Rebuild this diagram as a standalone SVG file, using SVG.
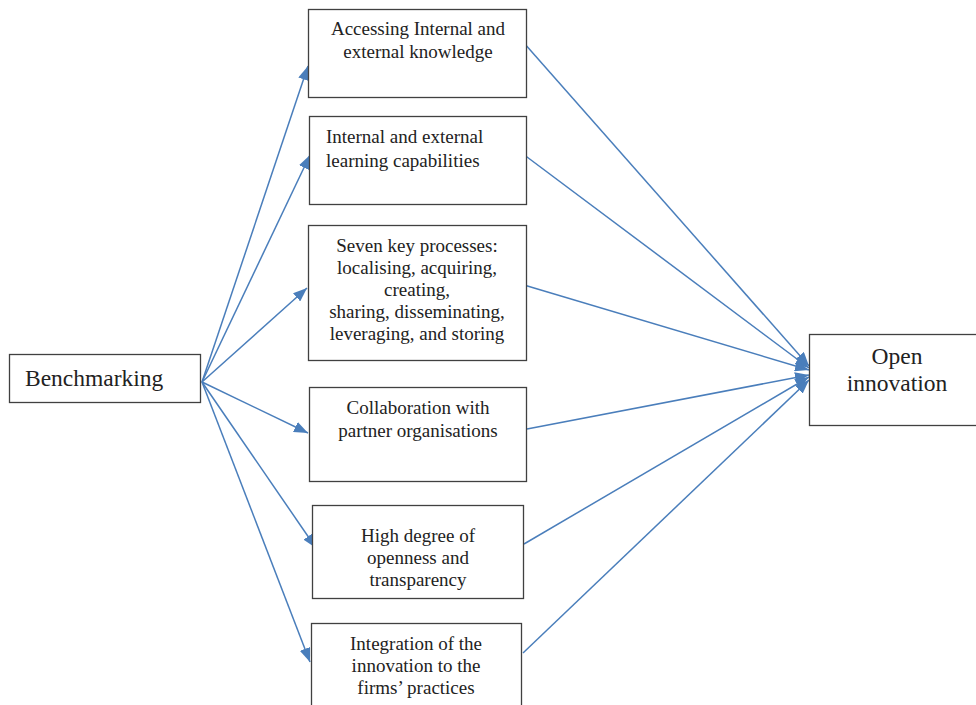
<svg xmlns="http://www.w3.org/2000/svg" width="976" height="705" viewBox="0 0 976 705">
<style>
.box{fill:#fff;stroke:#404040;stroke-width:1.3}
.t{font-family:"Liberation Serif","Times New Roman",serif;font-size:19px;fill:#222}
.c{text-anchor:middle}
.big{font-size:23.5px}
.ln{stroke:#4a7ebb;stroke-width:1.5;fill:none;marker-end:url(#ah)}
</style>
<defs>
<marker id="ah" viewBox="0 0 14 11" refX="14" refY="5.5" markerWidth="14" markerHeight="11" markerUnits="userSpaceOnUse" orient="auto">
<path d="M0,0 L14,5.5 L0,11 z" fill="#4a7ebb"/>
</marker>
</defs>
<rect width="976" height="705" fill="#fff"/>
<g id="connectors">
<line class="ln" x1="202" y1="382" x2="308" y2="66"/>
<line class="ln" x1="202" y1="382" x2="310" y2="155"/>
<line class="ln" x1="202" y1="382" x2="307" y2="288"/>
<line class="ln" x1="202" y1="382" x2="308" y2="433"/>
<line class="ln" x1="202" y1="382" x2="316" y2="548"/>
<line class="ln" x1="202" y1="382" x2="310" y2="662"/>
<line class="ln" x1="524" y1="43" x2="809" y2="366"/>
<line class="ln" x1="523" y1="154" x2="809" y2="368"/>
<line class="ln" x1="524" y1="285" x2="809" y2="370"/>
<line class="ln" x1="527" y1="429" x2="809" y2="375"/>
<line class="ln" x1="524" y1="544" x2="809" y2="377"/>
<line class="ln" x1="523" y1="653" x2="809" y2="380"/>
</g>
<g id="benchmarking">
<rect class="box" x="9.5" y="354.5" width="191" height="48"/>
<text class="t big" x="25" y="386">Benchmarking</text>
</g>
<g id="n1">
<rect class="box" x="308.5" y="9.5" width="218" height="88"/>
<text class="t c" x="418" y="35">Accessing Internal and</text>
<text class="t c" x="418" y="58">external knowledge</text>
</g>
<g id="n2">
<rect class="box" x="309.5" y="116.5" width="217" height="88"/>
<text class="t" x="326" y="143">Internal and external</text>
<text class="t" x="326" y="167">learning capabilities</text>
</g>
<g id="n3">
<rect class="box" x="308.5" y="225.5" width="218" height="135"/>
<text class="t c" x="417" y="252">Seven key processes:</text>
<text class="t c" x="417" y="274">localising, acquiring,</text>
<text class="t c" x="417" y="296">creating,</text>
<text class="t c" x="417" y="318">sharing, disseminating,</text>
<text class="t c" x="417" y="340">leveraging, and storing</text>
</g>
<g id="n4">
<rect class="box" x="309.5" y="387.5" width="217" height="94"/>
<text class="t c" x="418" y="414">Collaboration with</text>
<text class="t c" x="418" y="437">partner organisations</text>
</g>
<g id="n5">
<rect class="box" x="312.5" y="505.5" width="211" height="93"/>
<text class="t c" x="418" y="542">High degree of</text>
<text class="t c" x="418" y="564">openness and</text>
<text class="t c" x="418" y="586">transparency</text>
</g>
<g id="n6">
<rect class="box" x="311.5" y="623.5" width="210" height="90"/>
<text class="t c" x="416" y="650">Integration of the</text>
<text class="t c" x="416" y="672">innovation to the</text>
<text class="t c" x="416" y="694">firms’ practices</text>
</g>
<g id="open">
<rect class="box" x="809.5" y="334.5" width="170" height="91"/>
<text class="t c big" x="897" y="364">Open</text>
<text class="t c big" x="897" y="391">innovation</text>
</g>
</svg>
